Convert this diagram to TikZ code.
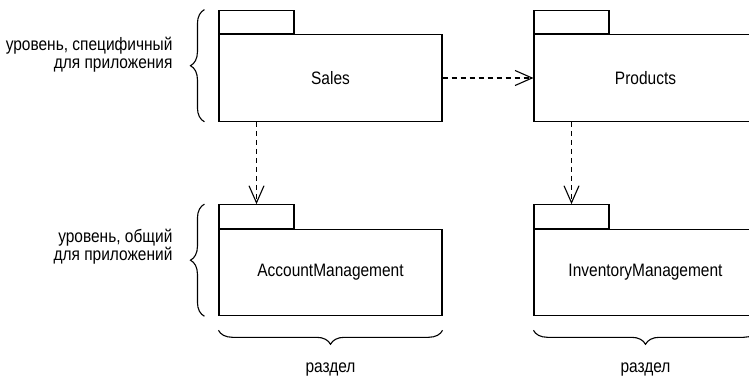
\documentclass[tikz,border=0pt]{standalone}
\usepackage{fontspec}
\setmainfont[FakeStretch=0.86]{Liberation Sans}
\usetikzlibrary{positioning, arrows.meta, decorations.pathreplacing}

\begin{document}
\begin{tikzpicture}[
    x=1pt, y=-1pt,
    line width=1.1pt,
    pkgbody/.style={draw, rectangle, minimum width=223pt, minimum height=86.5pt, inner sep=0pt, font=\fontsize{18}{20}\selectfont},
    pkgtab/.style={draw, rectangle, minimum width=75pt, minimum height=23.5pt, inner sep=0pt, anchor=south west},
    dep/.style={dash pattern=on 5pt off 4pt, -{Straight Barb[length=17pt, width=15pt]}},
    brace/.style={decorate, decoration={brace, amplitude=14pt}},
    textlabel/.style={font=\fontsize{18}{18}\selectfont, align=right, inner sep=0pt}
]
    \useasboundingbox (0,0) rectangle (749,377);
    \clip (0,0) rectangle (749,377);

    % --- Application level ---
    \node[pkgbody] (sales) at (330.5, 78) {Sales};
    \node[pkgtab] (sales_tab) at (sales.north west) {};
    \node[pkgbody] (products) at (645.5, 78) {Products};
    \node[pkgtab] (products_tab) at (products.north west) {};

    % --- Common level ---
    \node[pkgbody] (account) at (330.5, 272.5) {AccountManagement};
    \node[pkgtab] (account_tab) at (account.north west) {};
    \node[pkgbody] (inventory) at (645.5, 272.5) {InventoryManagement};
    \node[pkgtab] (inventory_tab) at (inventory.north west) {};

    % Dependencies
    \draw[dep] (sales) -- (products);
    \draw[dep] (sales.south -| account_tab) -- (account_tab.north);
    \draw[dep] (products.south -| inventory_tab) -- (inventory_tab.north);

    % --- Levels ---
    \draw[brace] ([xshift=-14pt]sales.south west) -- ([xshift=-14pt]sales_tab.north west);
    \draw[brace] ([xshift=-14pt]account.south west) -- ([xshift=-14pt]account_tab.north west);
    \node[textlabel, anchor=east] (lvl_app) at (173, 55) {уровень, специфичный\\для приложения};
    \node[textlabel, anchor=east] (lvl_common) at (173, 247) {уровень, общий\\для приложений};

    % --- Partitions ---
    \draw[brace] ([yshift=-14pt]account.south east) -- ([yshift=-14pt]account.south west);
    \draw[brace] ([yshift=-14pt]inventory.south east) -- ([yshift=-14pt]inventory.south west);
    \node[textlabel, anchor=base] (part_left) at (330.5, 372) {раздел};
    \node[textlabel, anchor=base] (part_right) at (645.5, 372) {раздел};

\end{tikzpicture}
\end{document}
